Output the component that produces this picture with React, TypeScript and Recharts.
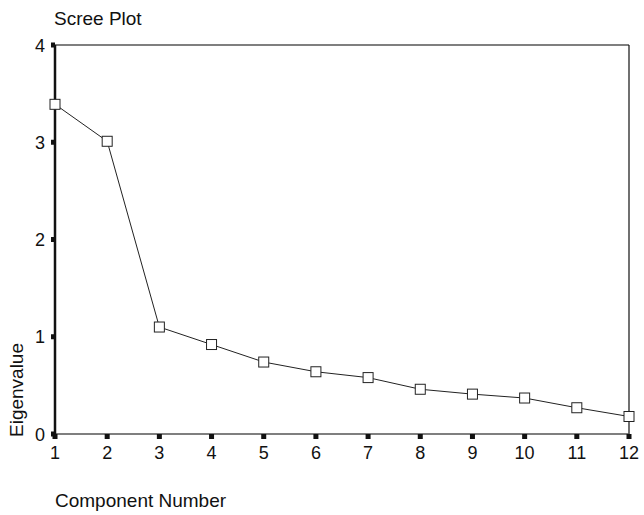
import { LineChart, Line, XAxis, YAxis, ReferenceLine, Label } from 'recharts'

const components = [1, 2, 3, 4, 5, 6, 7, 8, 9, 10, 11, 12]
const eigenvalues = [3.39, 3.01, 1.1, 0.92, 0.74, 0.64, 0.58, 0.46, 0.41, 0.37, 0.27, 0.18]
const yTicks = [0, 1, 2, 3, 4]

const data = components.map((c, i) => ({ component: c, eigenvalue: eigenvalues[i] }))

const FONT = "'Liberation Sans', Arial, sans-serif"

function XTick({ x, y, payload }: any) {
  return (
    <g>
      <rect x={x - 2.5} y={y} width={5} height={5} fill="#111" />
      <text x={x} y={y + 25} textAnchor="middle" fontSize={18} fontFamily={FONT} fill="#111">
        {payload.value}
      </text>
    </g>
  )
}

function YTick({ x, y, payload }: any) {
  return (
    <g>
      <rect x={x - 4} y={y - 2.5} width={4} height={5} fill="#111" />
      <text x={x - 10} y={y + 6.5} textAnchor="end" fontSize={18} fontFamily={FONT} fill="#111">
        {payload.value}
      </text>
    </g>
  )
}

function SquareDot({ cx, cy }: any) {
  return <rect x={cx - 5} y={cy - 5} width={10} height={10} fill="#fff" stroke="#222" strokeWidth={1} />
}

export default function App() {
  return (
    <div style={{ position: 'absolute', left: 0, top: 0, background: '#fff' }}>
      <LineChart width={644} height={515} data={data} margin={{ top: 45, right: 15, left: 15, bottom: 51 }}>
        <ReferenceLine y={4} stroke="#555" strokeWidth={1.5} />
        <ReferenceLine x={12} stroke="#111" strokeWidth={1.2} />
        <XAxis
          dataKey="component"
          type="number"
          domain={[1, 12]}
          ticks={components}
          height={30}
          tickSize={0}
          tickMargin={0}
          tickLine={false}
          axisLine={{ stroke: '#555', strokeWidth: 1.5 }}
          tick={<XTick />}
          interval={0}
        >
          <Label
            content={() => (
              <text x={55} y={507} fontSize={19} fontFamily={FONT} fill="#111">
                Component Number
              </text>
            )}
          />
        </XAxis>
        <YAxis
          type="number"
          domain={[0, 4]}
          ticks={yTicks}
          width={40}
          tickSize={0}
          tickMargin={0}
          tickLine={false}
          axisLine={{ stroke: '#111', strokeWidth: 2.5 }}
          tick={<YTick />}
          interval={0}
        >
          <Label
            content={() => (
              <g>
                <text x={23} y={390} transform="rotate(-90 23 390)" textAnchor="middle" fontSize={19} fontFamily={FONT} fill="#111">
                  Eigenvalue
                </text>
                <text x={54} y={25} fontSize={19} fontFamily={FONT} fill="#111">
                  Scree Plot
                </text>
              </g>
            )}
          />
        </YAxis>
        <Line
          dataKey="eigenvalue"
          stroke="#222"
          strokeWidth={1}
          dot={<SquareDot />}
          activeDot={false}
          isAnimationActive={false}
        />
      </LineChart>
    </div>
  )
}
